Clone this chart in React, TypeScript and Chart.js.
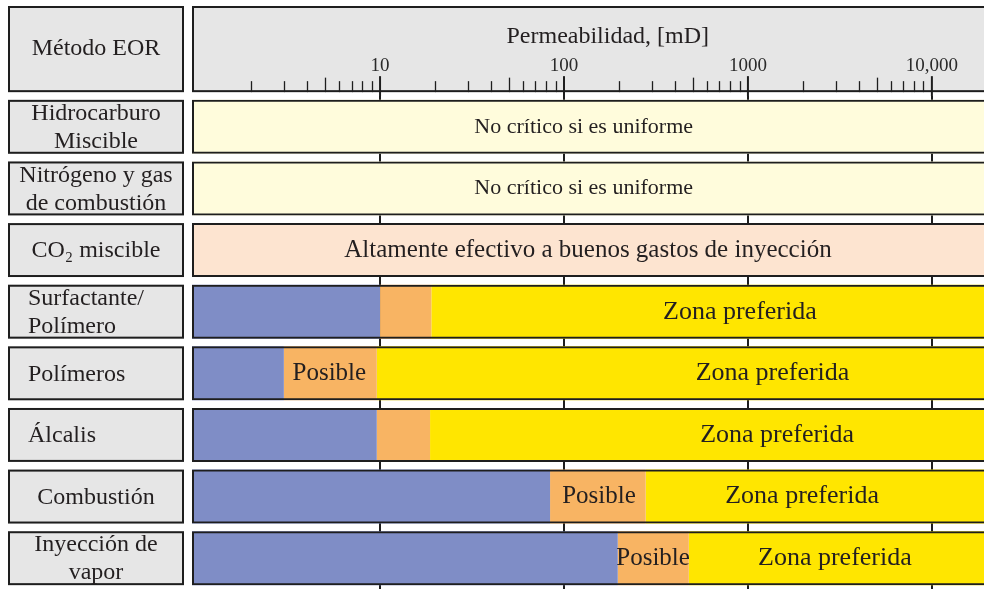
import React, { useEffect, useRef } from 'react';
import { Chart, registerables } from 'chart.js';

Chart.register(...registerables);

// ---------------- data ----------------
const methods: string[][] = [
  ['Hidrocarburo', 'Miscible'],
  ['Nitrógeno y gas', 'de combustión'],
  ['CO₂ miscible'],
  ['Surfactante/', 'Polímero'],
  ['Polímeros'],
  ['Álcalis'],
  ['Combustión'],
  ['Inyección de', 'vapor'],
];
const headerLabel = 'Método EOR';
const axisTitle = 'Permeabilidad, [mD]';
const tickValues = [10, 100, 1000, 10000];
const tickLabels = ['10', '100', '1000', '10,000'];

// permeability range of the panel (mD)
const permMin = 0.95;
const permMax = 19200;
const panelEnd = 100000; // bars continue past the right edge

const uniformRange = [[permMin, panelEnd], [permMin, panelEnd], null, null, null, null, null, null];
const effectiveRange = [null, null, [permMin, panelEnd], null, null, null, null, null];
const lowRange = [null, null, null, [permMin, 10], [permMin, 3], [permMin, 9.6], [permMin, 84], [permMin, 196]];
const possibleRange = [null, null, null, [10, 19], [3, 9.6], [9.6, 18.7], [84, 278], [196, 477]];
const preferredRange = [null, null, null, [19, panelEnd], [9.6, panelEnd], [18.7, panelEnd], [278, panelEnd], [477, panelEnd]];
const frameRange = methods.map(() => [permMin, panelEnd]);

const mainText = [
  'No crítico si es uniforme',
  'No crítico si es uniforme',
  'Altamente efectivo a buenos gastos de inyección',
  'Zona preferida',
  'Zona preferida',
  'Zona preferida',
  'Zona preferida',
  'Zona preferida',
];
const mainTextAt = [128, 128, 135, 904, 1360, 1440, 1970, 2970];
const possibleText = ['', '', '', '', 'Posible', '', 'Posible', 'Posible'];
const possibleTextAt = [null, null, null, null, 5.3, null, 155, 305];
const titleAt = 173;
const labelAlign = ['center', 'center', 'center', 'left', 'left', 'left', 'center', 'center'];

// ---------------- style ----------------
const FONT = '"Liberation Serif", "Times New Roman", serif';
const INK = '#231f20';
const RULE = '#1e1e1e';
const GRAY = '#e6e6e6';
const CREAM = '#fffcdc';
const PEACH = '#fde4d0';
const BLUE = '#7f8dc6';
const ORANGE = '#f8b463';
const YELLOW = '#ffe600';
const mainTextSize = [22, 22, 25, 26, 26, 26, 26, 26];
const possibleTextSize = 25;

const HEADER_TOP = 6;
const LEFT_X0 = 8;
const LEFT_X1 = 184;

function rowGeometry(chart: any) {
  const meta = chart.getDatasetMeta(0);
  return meta.data.map((el: any) => {
    const p = el.getProps(['y', 'height'], true);
    return { top: p.y - p.height / 2, bottom: p.y + p.height / 2, mid: p.y };
  });
}

function headerBottom(chart: any) {
  const g = rowGeometry(chart);
  const gap = g[1].top - g[0].bottom;
  return g[0].top - gap;
}

function box(ctx: CanvasRenderingContext2D, x0: number, y0: number, x1: number, y1: number) {
  ctx.fillStyle = GRAY;
  ctx.fillRect(x0, y0, x1 - x0, y1 - y0);
  ctx.strokeStyle = RULE;
  ctx.lineWidth = 2;
  ctx.strokeRect(x0 + 1, y0 + 1, x1 - x0 - 2, y1 - y0 - 2);
}

const tablePlugin = {
  id: 'eorTable',
  beforeDraw(chart: any) {
    const { ctx, chartArea } = chart;
    const g = rowGeometry(chart);
    const hb = headerBottom(chart);
    ctx.save();
    box(ctx, chartArea.left, HEADER_TOP, chart.width + 10, hb);
    box(ctx, LEFT_X0, HEADER_TOP, LEFT_X1, hb);
    g.forEach((r: any) => box(ctx, LEFT_X0, r.top, LEFT_X1, r.bottom));
    ctx.restore();
  },
  afterDatasetsDraw(chart: any) {
    const { ctx } = chart;
    const xs = chart.scales.x;
    const g = rowGeometry(chart);
    ctx.save();
    ctx.fillStyle = INK;
    ctx.textAlign = 'center';
    ctx.textBaseline = 'middle';
    g.forEach((r: any, i: number) => {
      if (mainText[i]) {
        ctx.font = `${mainTextSize[i]}px ${FONT}`;
        ctx.fillText(mainText[i], xs.getPixelForValue(mainTextAt[i]), r.mid);
      }
      if (possibleText[i]) {
        ctx.font = `${possibleTextSize}px ${FONT}`;
        ctx.fillText(possibleText[i], xs.getPixelForValue(possibleTextAt[i] as number), r.mid);
      }
    });
    ctx.restore();
  },
  afterDraw(chart: any) {
    const { ctx, chartArea } = chart;
    const xs = chart.scales.x;
    const g = rowGeometry(chart);
    const hb = headerBottom(chart);
    ctx.save();
    // header tick marks
    ctx.strokeStyle = RULE;
    for (let d = 0; d <= 4; d++) {
      for (let m = 2; m <= 9; m++) {
        const v = m * Math.pow(10, d);
        if (v <= permMin || v >= permMax) continue;
        const x = Math.round(xs.getPixelForValue(v)) + 0.5;
        ctx.lineWidth = 1.3;
        ctx.beginPath();
        ctx.moveTo(x, hb);
        ctx.lineTo(x, hb - (m === 5 ? 14.5 : 11));
        ctx.stroke();
      }
    }
    tickValues.forEach((v) => {
      const x = xs.getPixelForValue(v);
      ctx.lineWidth = 2;
      ctx.beginPath();
      ctx.moveTo(x, hb - 16);
      ctx.lineTo(x, chartArea.top);
      ctx.stroke();
    });
    // axis title
    ctx.fillStyle = INK;
    ctx.font = `24px ${FONT}`;
    ctx.textAlign = 'center';
    ctx.textBaseline = 'alphabetic';
    ctx.fillText(axisTitle, xs.getPixelForValue(titleAt), 43);
    // left column labels
    ctx.textBaseline = 'middle';
    ctx.fillText(headerLabel, 96, (HEADER_TOP + hb) / 2);
    g.forEach((r: any, i: number) => {
      const lines = methods[i];
      const left = labelAlign[i] === 'left';
      ctx.textAlign = left ? 'left' : 'center';
      const x = left ? 28 : 96;
      const lh = 28;
      lines.forEach((line, j) => {
        const y = r.mid + 1 + (j - (lines.length - 1) / 2) * lh;
        ctx.fillText(line, x, y);
      });
    });
    ctx.restore();
  },
};

export default function App() {
  const ref = useRef<HTMLCanvasElement>(null);
  useEffect(() => {
    document.body.style.margin = '0';
    const labels = methods.map((m) => m.join(' '));
    const chart = new Chart(ref.current as HTMLCanvasElement, {
      type: 'bar',
      data: {
        labels,
        datasets: [
          {
            label: 'marco',
            data: frameRange as any,
            backgroundColor: 'rgba(0,0,0,0)',
            borderColor: RULE,
            borderWidth: 2,
            clip: false as any,
          },
          { label: 'No crítico si es uniforme', data: uniformRange as any, backgroundColor: CREAM, borderWidth: 0 },
          { label: 'Altamente efectivo', data: effectiveRange as any, backgroundColor: PEACH, borderWidth: 0 },
          { label: 'No recomendado', data: lowRange as any, backgroundColor: BLUE, borderWidth: 0 },
          { label: 'Posible', data: possibleRange as any, backgroundColor: ORANGE, borderWidth: 0 },
          { label: 'Zona preferida', data: preferredRange as any, backgroundColor: YELLOW, borderWidth: 0 },
        ],
      },
      options: {
        indexAxis: 'y',
        responsive: false,
        animation: false,
        events: [],
        datasets: {
          bar: {
            grouped: false,
            categoryPercentage: 1,
            barPercentage: 0.875,
            borderSkipped: false,
          },
        } as any,
        layout: { padding: { left: 192, top: 0, right: 0, bottom: -5 } },
        plugins: { legend: { display: false }, tooltip: { enabled: false }, title: { display: false } },
        scales: {
          x: {
            type: 'logarithmic',
            position: 'top',
            min: permMin,
            max: permMax,
            afterBuildTicks: (scale: any) => {
              scale.ticks = tickValues.map((v) => ({ value: v, major: true }));
            },
            afterFit: (scale: any) => {
              scale.height = 96;
            },
            ticks: {
              autoSkip: false,
              maxRotation: 0,
              minRotation: 0,
              padding: 19,
              color: '#2a2a2a',
              font: { family: FONT, size: 19 },
              callback: (value: any) => {
                const i = tickValues.indexOf(Number(value));
                return i >= 0 ? tickLabels[i] : '';
              },
            },
            grid: {
              drawTicks: false,
              drawOnChartArea: true,
              color: RULE,
              lineWidth: 2,
            },
            border: { display: false },
            title: { display: false },
          },
          y: {
            type: 'category',
            display: false,
          },
        },
      },
      plugins: [tablePlugin],
    } as any);
    return () => chart.destroy();
  }, []);
  return (
    <div style={{ width: 984, height: 589, overflow: 'hidden' }}>
      <canvas ref={ref} width={984} height={589} style={{ display: 'block' }} />
    </div>
  );
}
